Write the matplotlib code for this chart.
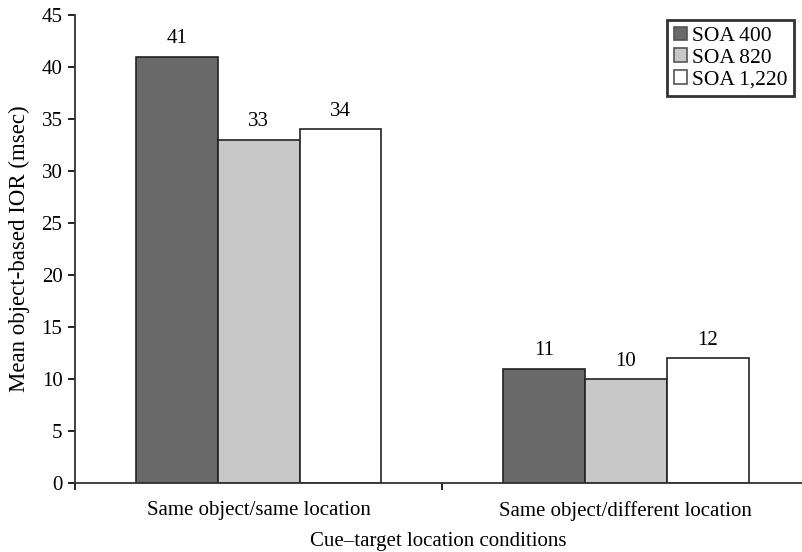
import matplotlib
matplotlib.use("Agg")
import matplotlib.pyplot as plt
import numpy as np

plt.rcParams['font.family'] = ['Liberation Serif', 'DejaVu Serif']

# data
conditions = ["Same object/same location", "Same object/different location"]
series = ["SOA 400", "SOA 820", "SOA 1,220"]
soa400 = [41, 11]
soa820 = [33, 10]
soa1220 = [34, 12]
valeurs = [soa400, soa820, soa1220]
couleurs = ["#696969", "#c8c8c8", "#ffffff"]

fig = plt.figure(figsize=(8.02, 5.52), dpi=100)
ax = fig.add_axes([75/802, 69/552, (802-75)/802, 468/552])

x = np.arange(len(conditions))
largeur = 0.223
for i, (nom, v) in enumerate(zip(series, valeurs)):
    pos = x + (i - 1) * largeur
    barres = ax.bar(pos, v, largeur, color=couleurs[i], edgecolor="#222222",
                    linewidth=1.2, label=nom)
    for b, val in zip(barres, v):
        ax.annotate(str(val), (b.get_x() + b.get_width()/2, val),
                    xytext=(0, 6), textcoords="offset points",
                    ha="center", va="bottom", fontsize=15)

ax.set_xlim(-0.5, 1.48)
ax.set_ylim(0, 45)
ax.set_yticks(range(0, 46, 5))
ax.set_xticks(x)
ax.set_xticklabels(conditions)
ax.set_xticks([-0.5, 0.5], minor=True)
ax.tick_params(axis='x', which='major', length=0, pad=13, labelsize=15)
ax.tick_params(axis='x', which='minor', length=5, width=1.2, direction='out')
ax.tick_params(axis='y', length=5, width=1.2, labelsize=15, pad=4)

ax.spines['top'].set_visible(False)
ax.spines['right'].set_visible(False)
for s in ['left', 'bottom']:
    ax.spines[s].set_linewidth(1.3)
    ax.spines[s].set_color("#333333")

ax.set_xlabel("Cue\u2013target location conditions", fontsize=15, labelpad=8)
ax.set_ylabel("Mean object-based IOR (msec)", fontsize=16.5, labelpad=8)

leg = ax.legend(loc="upper right", bbox_to_anchor=(0.995, 0.998), fontsize=15.5,
                frameon=True, fancybox=False, handlelength=0.6, handleheight=0.6,
                handletextpad=0.25, borderpad=0.3, labelspacing=0.1,
                borderaxespad=0.2)
leg.get_frame().set_edgecolor("black")
leg.get_frame().set_linewidth(2)
for h in leg.legend_handles:
    h.set_edgecolor("#555555")

fig.savefig("out.png", dpi=100)
